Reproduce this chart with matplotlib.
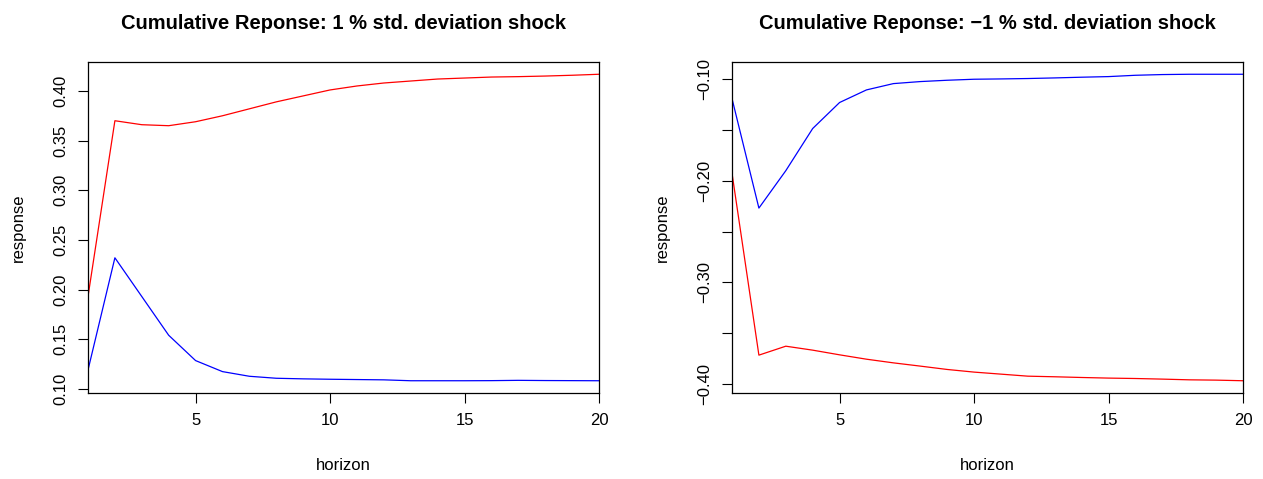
import numpy as np
import matplotlib.pyplot as plt

plt.rcParams['font.family'] = ['Liberation Sans', 'DejaVu Sans']

#Data
horizon = np.arange(1, 21)

pos_red = [0.193, 0.370, 0.366, 0.365, 0.369, 0.375, 0.382, 0.389, 0.395, 0.401,
           0.405, 0.408, 0.410, 0.412, 0.413, 0.414, 0.4144, 0.415, 0.4158, 0.4168]
pos_blue = [0.119, 0.232, 0.193, 0.154, 0.1285, 0.1174, 0.1127, 0.1107, 0.1101, 0.1097,
            0.1094, 0.1091, 0.1082, 0.1082, 0.1082, 0.1083, 0.1086, 0.1084, 0.1083, 0.1082]

neg_blue = [-0.119, -0.2268, -0.190, -0.1485, -0.1229, -0.1105, -0.1043, -0.1023, -0.1010, -0.1000,
            -0.0997, -0.0993, -0.0987, -0.0980, -0.0974, -0.0961, -0.0954, -0.0951, -0.0951, -0.0951]
neg_red = [-0.1924, -0.3715, -0.3627, -0.3666, -0.3712, -0.3755, -0.3791, -0.3823, -0.3856, -0.3882,
           -0.3902, -0.3922, -0.3928, -0.3935, -0.3941, -0.3945, -0.3951, -0.3958, -0.3961, -0.3967]

titles = ["Cumulative Reponse: 1 % std. deviation shock",
          "Cumulative Reponse: \u22121 % std. deviation shock"]

#Figure
fig = plt.figure(figsize=(12.63, 4.79), dpi=100)
ax1 = fig.add_axes([88/1263, 86/479, 511/1263, 331/479])
ax2 = fig.add_axes([732/1263, 86/479, 511/1263, 331/479])

panels = [
    (ax1, pos_red, pos_blue, np.arange(0.10, 0.401, 0.05), True),
    (ax2, neg_red, neg_blue, np.arange(-0.40, -0.099, 0.05), False),
]

for (ax, red, blue, yt, all_labels), title in zip(panels, titles):
    ax.plot(horizon, red, color='red', lw=0.9)
    ax.plot(horizon, blue, color='blue', lw=0.9)
    ax.set_xlim(1, 20)
    ax.margins(y=0.04)
    ax.set_xticks([5, 10, 15, 20])
    ax.set_yticks(yt)
    if all_labels:
        ax.set_yticklabels(["%.2f" % v for v in yt])
    else:
        ax.set_yticklabels([("%.2f" % v).replace('-', '\u2212') if i % 2 == 0 else ""
                            for i, v in enumerate(yt)])
    for lab in ax.get_yticklabels():
        lab.set_rotation(90)
        lab.set_va('center')
    ax.tick_params(direction='out', length=7.2, width=0.8, labelsize=12, pad=7)
    for s in ax.spines.values():
        s.set_linewidth(0.9)
    ax.set_xlabel("horizon", fontsize=12, labelpad=22)
    ax.set_ylabel("response", fontsize=12, labelpad=20)
    ax.set_title(title, fontsize=14.5, fontweight='bold', pad=24)

fig.savefig("out.png", dpi=100)
